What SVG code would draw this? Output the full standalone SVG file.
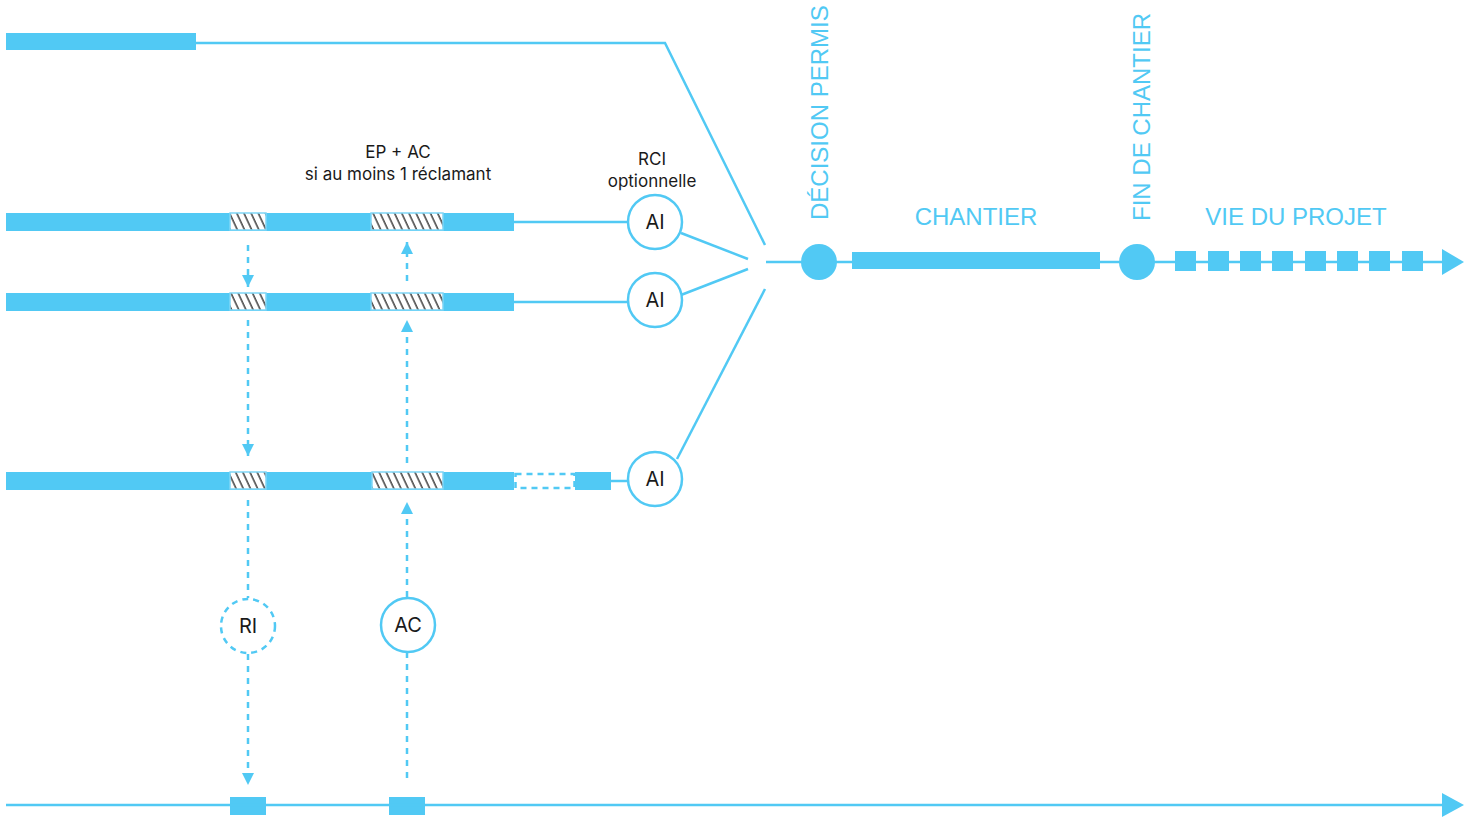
<svg xmlns="http://www.w3.org/2000/svg" width="1477" height="818" viewBox="0 0 1477 818">
  <style>
    .bar { fill: #51c9f4; }
    .ln { stroke: #51c9f4; stroke-width: 2.5; fill: none; }
    .dash { stroke: #51c9f4; stroke-width: 2.5; fill: none; stroke-dasharray: 6 6; }
    .node { fill: #ffffff; stroke: #51c9f4; stroke-width: 2.5; }
    .hatch { fill: url(#hatch); stroke: #7fd6f6; stroke-width: 1.5; }
    .lbl { font-family: Inter, "Liberation Sans", Arial, sans-serif; font-size: 20px; fill: #1a1a1a; text-anchor: middle; }
    .note { font-family: Inter, "Liberation Sans", Arial, sans-serif; font-size: 17px; fill: #1a1a1a; text-anchor: middle; }
    .phase { font-family: "Liberation Sans", Arial, sans-serif; font-size: 24px; fill: #51c9f4; }
  </style>
  <defs>
    <pattern id="hatch" patternUnits="userSpaceOnUse" width="6.5" height="20" patternTransform="rotate(-25)">
      <rect width="6.5" height="20" fill="#ffffff"/>
      <line x1="1" y1="0" x2="1" y2="20" stroke="#111" stroke-width="1.2"/>
    </pattern>
    <marker id="arr" viewBox="0 0 12 12" refX="12" refY="6" markerWidth="12" markerHeight="12" markerUnits="userSpaceOnUse" orient="auto">
      <path d="M0,0 L12,6 L0,12 Z" fill="#51c9f4"/>
    </marker>
  </defs>

  <!-- procedure tracks -->
  <g id="track-top">
    <rect class="bar" x="6" y="33" width="190" height="17"/>
  </g>
  <g id="track-1">
    <rect class="bar" x="6" y="213" width="508" height="18"/>
    <rect class="hatch" x="230" y="213" width="36" height="17"/>
    <rect class="hatch" x="371" y="213" width="72" height="17"/>
  </g>
  <g id="track-2">
    <rect class="bar" x="6" y="293" width="508" height="18"/>
    <rect class="hatch" x="230" y="293" width="36" height="17"/>
    <rect class="hatch" x="371" y="293" width="72" height="17"/>
  </g>
  <g id="track-3">
    <rect class="bar" x="6" y="472" width="508" height="18"/>
    <rect x="515.5" y="474" width="59" height="14" fill="none" stroke="#51c9f4" stroke-width="2.5" stroke-dasharray="6 5"/>
    <rect class="bar" x="575" y="472" width="36" height="18"/>
    <rect class="hatch" x="230" y="472" width="36" height="17"/>
    <rect class="hatch" x="372" y="472" width="71" height="17"/>
  </g>
  <g id="track-bottom">
    <rect class="bar" x="230" y="797" width="36" height="18"/>
    <rect class="bar" x="389" y="797" width="36" height="18"/>
  </g>

  <!-- connectors -->
  <g id="connectors">
    <polyline class="ln" points="196,43 665,43 765,245"/>
    <line class="ln" x1="514" y1="222" x2="628" y2="222"/>
    <line class="ln" x1="514" y1="302" x2="628" y2="302"/>
    <line class="ln" x1="611" y1="481" x2="628" y2="481"/>
    <line class="ln" x1="681" y1="233" x2="748" y2="259"/>
    <line class="ln" x1="681" y1="295" x2="748" y2="269"/>
    <line class="ln" x1="677" y1="459" x2="765" y2="289"/>
    <line class="ln" x1="766" y1="262" x2="1445" y2="262"/>
    <path d="M1442,249 L1464,262 L1442,275 Z" fill="#51c9f4"/>
    <line class="ln" x1="6" y1="805" x2="1445" y2="805"/>
    <path d="M1442,793 L1464,805 L1442,817 Z" fill="#51c9f4"/>

    <!-- left column: downward -->
    <line class="dash" x1="248" y1="245" x2="248" y2="287" marker-end="url(#arr)"/>
    <line class="dash" x1="248" y1="320" x2="248" y2="456" marker-end="url(#arr)"/>
    <line class="dash" x1="248" y1="500" x2="248" y2="598"/>
    <line class="dash" x1="248" y1="654" x2="248" y2="785" marker-end="url(#arr)"/>

    <!-- right column: upward -->
    <line class="dash" x1="407" y1="778" x2="407" y2="652"/>
    <line class="dash" x1="407" y1="597" x2="407" y2="502" marker-end="url(#arr)"/>
    <line class="dash" x1="407" y1="463" x2="407" y2="320" marker-end="url(#arr)"/>
    <line class="dash" x1="407" y1="281" x2="407" y2="242" marker-end="url(#arr)"/>
  </g>

  <!-- milestones and phases -->
  <g id="decision">
    <circle cx="819" cy="262" r="18" fill="#51c9f4"/>
    <text class="phase" transform="translate(828,220) rotate(-90)">DÉCISION PERMIS</text>
  </g>
  <g id="chantier">
    <rect class="bar" x="852" y="252" width="248" height="17"/>
    <text class="phase" x="976" y="225" text-anchor="middle">CHANTIER</text>
  </g>
  <g id="fin-chantier">
    <circle cx="1137" cy="262" r="18" fill="#51c9f4"/>
    <text class="phase" transform="translate(1150,221) rotate(-90)">FIN DE CHANTIER</text>
  </g>
  <g id="vie-projet">
    <rect class="bar" x="1175" y="251" width="21" height="20"/>
    <rect class="bar" x="1208" y="251" width="21" height="20"/>
    <rect class="bar" x="1240" y="251" width="21" height="20"/>
    <rect class="bar" x="1272" y="251" width="21" height="20"/>
    <rect class="bar" x="1305" y="251" width="21" height="20"/>
    <rect class="bar" x="1337" y="251" width="21" height="20"/>
    <rect class="bar" x="1369" y="251" width="21" height="20"/>
    <rect class="bar" x="1402" y="251" width="21" height="20"/>
    <text class="phase" x="1296" y="225" text-anchor="middle">VIE DU PROJET</text>
  </g>

  <!-- circle nodes -->
  <g id="ai-1">
    <circle class="node" cx="655" cy="222" r="27"/>
    <text class="lbl" x="655" y="229">AI</text>
  </g>
  <g id="ai-2">
    <circle class="node" cx="655" cy="300" r="27"/>
    <text class="lbl" x="655" y="307">AI</text>
  </g>
  <g id="ai-3">
    <circle class="node" cx="655" cy="479" r="27"/>
    <text class="lbl" x="655" y="486">AI</text>
  </g>
  <g id="ri">
    <circle class="node" cx="248" cy="626" r="27" stroke-dasharray="6 5"/>
    <text class="lbl" x="248" y="633">RI</text>
  </g>
  <g id="ac">
    <circle class="node" cx="408" cy="625" r="27"/>
    <text class="lbl" x="408" y="632">AC</text>
  </g>

  <!-- annotations -->
  <g id="note-ep-ac">
    <text class="note" x="398" y="158">EP + AC</text>
    <text class="note" x="398" y="180">si au moins 1 réclamant</text>
  </g>
  <g id="note-rci">
    <text class="note" x="652" y="165">RCI</text>
    <text class="note" x="652" y="187">optionnelle</text>
  </g>
</svg>
